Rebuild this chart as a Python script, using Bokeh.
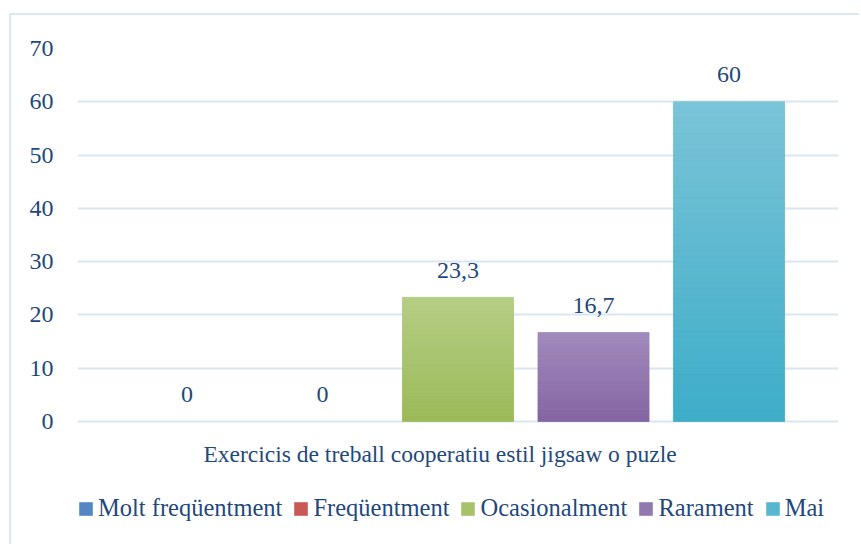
from bokeh.plotting import figure
from bokeh.models import (FactorRange, Range1d, FixedTicker, Label, Legend, LegendItem,
                          ColumnDataSource)
from bokeh.core.properties import value
from bokeh.embed import file_html
from bokeh.resources import INLINE

# ---- data ----
category = "Exercicis de treball cooperatiu estil jigsaw o puzle"
series = ["Molt freqüentment", "Freqüentment", "Ocasionalment", "Rarament", "Mai"]
values = [0, 0, 23.3, 16.7, 60]
y_ticks = [0, 10, 20, 30, 40, 50, 60, 70]
labels = [f"{v:g}".replace(".", ",") for v in values]

# ---- style ----
FONT = "Liberation Serif"
TEXT = "#1F497D"
GRID = "#DCE6F2"
colors_top = ["#6F9BD1", "#D46F6B", "#B6CE86", "#A38CBD", "#7AC4D7"]
colors_bottom = ["#3F72B0", "#B54541", "#9BBA58", "#8565A3", "#3EADC8"]
colors_legend = ["#5585C2", "#C85955", "#A6C36A", "#9179AE", "#58B6CF"]


def mix(c1, c2, t):
    a = [int(c1[i:i + 2], 16) for i in (1, 3, 5)]
    b = [int(c2[i:i + 2], 16) for i in (1, 3, 5)]
    return "#" + "".join(f"{round(x + (y - x) * t):02x}" for x, y in zip(a, b))


# plot frame extends below the zero line so the category label and legend
# can sit inside it (value axis shows only 0..70)
FRAME_H = 498          # px, canvas height minus top border
AXIS_H = 373           # px between 0 and 70
y_top = max(y_ticks)
y_bottom = y_top - y_top * FRAME_H / AXIS_H

p = figure(width=850, height=531, output_backend="svg", toolbar_location=None,
           x_range=FactorRange(*series, range_padding=0.1232, range_padding_units="percent"),
           y_range=Range1d(y_bottom, y_top), x_axis_location=None,
           min_border_left=66, min_border_right=23, min_border_top=33, min_border_bottom=0)
p.styles = {"margin-left": "9px", "margin-top": "13px",
            "border-left": f"2px solid {GRID}", "border-top": f"2px solid {GRID}"}
p.outline_line_color = None
p.background_fill_color = "white"
p.border_fill_color = "white"
p.xgrid.grid_line_color = None
p.ygrid.grid_line_color = GRID
p.ygrid.grid_line_width = 2

yax = p.yaxis[0]
yax.ticker = FixedTicker(ticks=y_ticks)
yax.axis_line_color = None
yax.major_tick_line_color = None
yax.minor_tick_line_color = None
yax.major_tick_out = 0
yax.major_label_standoff = 24
yax.major_label_text_font = FONT
yax.major_label_text_font_size = "24px"
yax.major_label_text_color = TEXT

# base bars (legend colours)
width = 0.82
items = []
for s, v, c in zip(series, values, colors_legend):
    r = p.vbar(x=[s], top=[v], width=width, fill_color=c, line_color=None)
    items.append(LegendItem(label=s, renderers=[r]))

# gradient overlay built from the bar values
N = 60
gx, gb, gt, gc = [], [], [], []
for s, v, ct, cb in zip(series, values, colors_top, colors_bottom):
    if v <= 0:
        continue
    for k in range(N):
        gx.append(s)
        gb.append(v * k / N)
        gt.append(v * (k + 1) / N)
        gc.append(mix(cb, ct, (k + 0.5) / N))
gsrc = ColumnDataSource(dict(x=gx, bottom=gb, top=gt, color=gc))
p.vbar(x="x", bottom="bottom", top="top", width=width, source=gsrc,
       fill_color="color", line_color="color", line_width=0.6)

# data labels
p.text(x=series, y=values, text=labels, text_align="center", text_baseline="middle",
       y_offset=-27, text_font=value(FONT), text_font_size="24px", text_color=TEXT)

# category label
p.add_layout(Label(x=126, y=93, x_units="screen", y_units="screen", text=category,
                   text_align="left", text_baseline="middle",
                   text_font=FONT, text_font_size="23.5px", text_color=TEXT))

legend = Legend(items=items, orientation="horizontal", location=(0, 24),
                padding=0, margin=0, spacing=10, label_standoff=4,
                glyph_width=17, glyph_height=17,
                label_text_font=FONT, label_text_font_size="24.5px", label_text_color=TEXT,
                label_text_baseline="middle",
                border_line_color=None, background_fill_alpha=0)
p.add_layout(legend)

open("out.html", "w").write(file_html(p, INLINE))
